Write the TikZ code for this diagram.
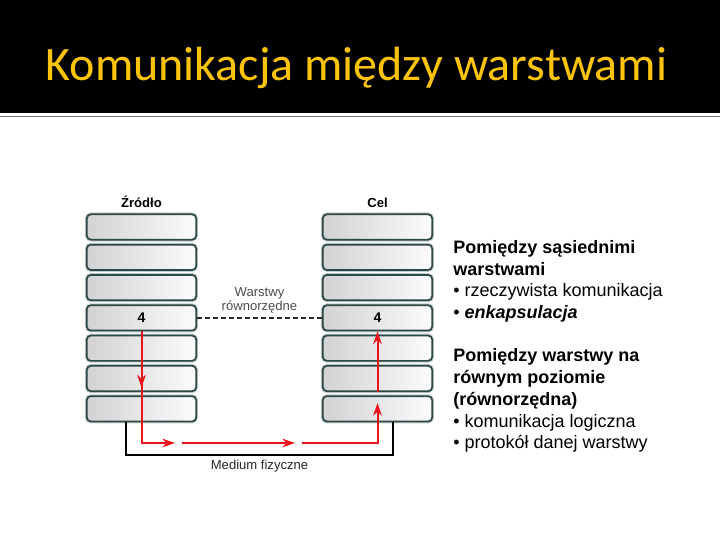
\documentclass[tikz,border=0pt]{standalone}
\usepackage{fontspec}
\setmainfont{Liberation Sans}
\newfontfamily\titlefont{Carlito}
\usetikzlibrary{arrows.meta, positioning, decorations.markings}
\definecolor{slide_gold}{RGB}{255,196,10}
\definecolor{slide_rule}{RGB}{112,112,112}
\definecolor{layer_edge}{RGB}{45,70,70}
\definecolor{layer_halo}{RGB}{195,205,205}
\definecolor{path_red}{RGB}{232,20,28}

\begin{document}
\begin{tikzpicture}[x=0.75pt, y=-0.75pt,
        stackbox/.style={draw=layer_edge, line width=1.3pt, rounded corners=3pt, left color=gray!35, right color=gray!3, minimum width=82pt, minimum height=19pt, inner sep=0pt, preaction={draw=layer_halo, line width=2.8pt}},
        head/.style={font=\fontsize{9.8}{12}\selectfont\bfseries, inner sep=1pt},
        lbl/.style={font=\fontsize{9.8}{10.5}\selectfont, text=black!70, align=center},
        redline/.style={draw=path_red, line width=1.5pt},
        redarr/.style={redline, -{Stealth[length=9.5pt, width=6.5pt]}},
        midarr/.style={postaction={decorate, decoration={markings, mark=at position #1 with {\arrow{Stealth[length=9.5pt, width=6.5pt]}}}}},
        medium/.style={draw=black, line width=1pt},
        peer/.style={draw=black!85, line width=0.9pt, dash pattern=on 3.5pt off 2.5pt}
    ]
    \fill[white] (0,0) rectangle (720,540);
    \useasboundingbox (0,0) rectangle (720,540);
    % pasek tytulowy
    \fill[black] (0,0) rectangle (720,113);
    \draw[slide_rule, line width=1pt] (0,116.5) -- (720,116.5);
    \node[anchor=base, text=slide_gold, font=\titlefont\fontsize{36}{40}\selectfont] (title) at (356.5,80) {Komunikacja między warstwami};

    % stosy warstw
    \foreach \i in {1,...,7} {
        \node[stackbox] (l\i) at (141.5, 196.7+30.3*\i) {};
        \node[stackbox] (r\i) at (377.5, 196.7+30.3*\i) {};
    }
    \node[head, font=\fontsize{10.5}{12}\selectfont\bfseries] (l4num) at (l4) {4};
    \node[head, font=\fontsize{10.5}{12}\selectfont\bfseries] (r4num) at (r4) {4};
    \node[head, above=3pt of l1] (src) {Źródło};
    \node[head, above=3pt of r1] (dst) {Cel};

    % warstwy rownorzedne
    \draw[peer] (l4.east) -- (r4.west);
    \node[lbl] (peerlbl) at (259.5,300) {Warstwy\\równorzędne};

    % droga danych
    \coordinate (bl) at (141.5,443);
    \coordinate (br) at (377.5,443);
    \coordinate (h1) at (175,443);
    \coordinate (h2) at (182,443);
    \coordinate (h3) at (295,443);
    \coordinate (h4) at (302,443);
    \coordinate (up) at (377.5,403);
    \draw[redarr, midarr=42pt] (l4.south) -- (bl) -- (h1);
    \draw[redarr] (h2) -- (h3);
    \draw[redarr] (h4) -- (br) -- (up);
    \draw[redarr] (r6.south) -- (r4.south);

    % medium
    \coordinate (ml) at (126,455);
    \coordinate (mr) at (393,455);
    \draw[medium] (l7.south -| ml) -- (ml) -- (mr) -- (r7.south -| mr);
    \node[lbl, text=black!85] (med) at (259.5,466) {Medium fizyczne};

    % opis
    \node[anchor=north west, inner sep=0pt, align=left, font=\fontsize{13.5}{16.3}\selectfont] (notes) at (453,240) {%
        \textbf{Pomiędzy sąsiednimi}\\
        \textbf{warstwami}\\
        • rzeczywista komunikacja\\
        • \textbf{\textit{enkapsulacja}}\\[16.3pt]
        \textbf{Pomiędzy warstwy na}\\
        \textbf{równym poziomie}\\
        \textbf{(równorzędna)}\\
        • komunikacja logiczna\\
        • protokół danej warstwy};
\end{tikzpicture}
\end{document}
